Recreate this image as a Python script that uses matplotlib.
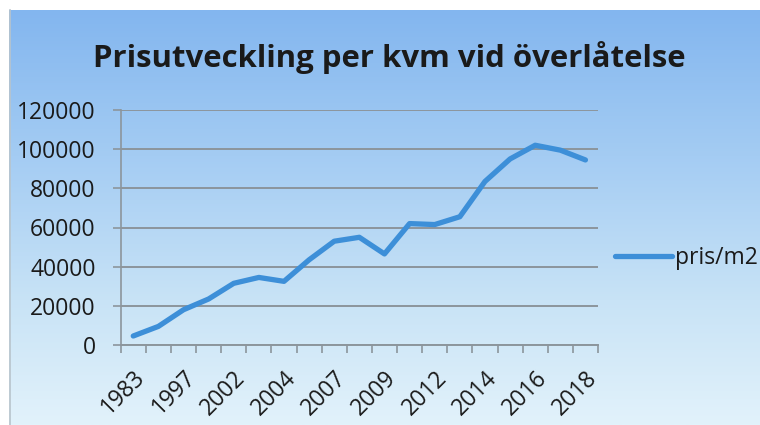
import matplotlib
matplotlib.use("Agg")
import matplotlib.pyplot as plt
import numpy as np
from matplotlib.colors import LinearSegmentedColormap

# Data (intermediate category labels are not shown in the chart; guessed)
years = ["1983", "1990", "1997", "2000", "2002", "2003", "2004", "2006", "2007", "2008",
         "2009", "2011", "2012", "2013", "2014", "2015", "2016", "2017", "2018"]
prices = [4600, 9500, 18000, 23500, 31500, 34500, 32500, 43500, 53000, 55000,
          46500, 62000, 61500, 65500, 83500, 95000, 102000, 99500, 94500]
series_name = "pris/m2"
title = "Prisutveckling per kvm vid överlåtelse"
yticks = [0, 20000, 40000, 60000, 80000, 100000, 120000]

W, H = 760, 425
fig = plt.figure(figsize=(W / 100, H / 100), dpi=100)
fig.patch.set_facecolor("white")

# background gradient panel
bg = fig.add_axes([0, 0, 1, 1], zorder=-10)
bg.set_xlim(0, W)
bg.set_ylim(H, 0)
bg.axis("off")
cmap = LinearSegmentedColormap.from_list(
    "bg", [(0.0, "#83b6ef"), (0.35, "#a4ccf3"), (0.7, "#c8e3f6"), (1.0, "#e2f2fb")])
grad = np.linspace(0, 1, 256).reshape(-1, 1)
bg.imshow(grad, cmap=cmap, aspect="auto", extent=(9, W, H, 10), zorder=0)
bg.plot([9.5, 9.5], [10, H], color="#b8c4cc", lw=1.2, zorder=1)

font = "Open Sans"
fs = 16.5

ax = fig.add_axes([120.7 / W, 1 - 345 / H, (598 - 120.7) / W, (345 - 110) / H])
ax.patch.set_alpha(0)
x = np.arange(len(years))
line, = ax.plot(x, prices, color="#3d8fd8", lw=3.8, solid_capstyle="round",
                solid_joinstyle="round", zorder=3, label=series_name)
ax.set_xlim(-0.5, len(years) - 0.5)
ax.set_ylim(0, 120000)
ax.set_yticks(yticks)
ax.set_yticklabels([str(v) for v in yticks], fontsize=fs, family=font, color="#1a1a1a")
ax.yaxis.grid(True, color="#8c959c", lw=1.4)
ax.set_axisbelow(True)

# category ticks at boundaries, labels every other category
ax.set_xticks(np.arange(-0.5, len(years)), minor=False)
ax.set_xticklabels([])
ax.set_xticks(x[::2], minor=True)
ax.set_xticklabels(years[::2], minor=True, rotation=45, ha="right", va="top",
                   rotation_mode="anchor", fontsize=fs, family=font, color="#1a1a1a")
ax.tick_params(axis="x", which="major", length=6, width=1.2, color="#8c959c", direction="out")
ax.tick_params(axis="x", which="minor", length=0, pad=15)
ax.tick_params(axis="y", which="major", length=6, width=1.2, color="#8c959c", pad=12)

for s in ["top", "right"]:
    ax.spines[s].set_visible(False)
ax.spines["left"].set_color("#8c959c")
ax.spines["left"].set_linewidth(1.2)
ax.spines["bottom"].set_color("#8c959c")
ax.spines["bottom"].set_linewidth(1.4)

fig.text(389 / W, 1 - 57 / H, title, ha="center", va="center", fontsize=22.4,
         fontweight="bold", family=font, color="#1a1a1a")

leg = fig.legend(handles=[line], loc="center left", bbox_to_anchor=(615 / W, 1 - 258 / H),
                 frameon=False, prop={"family": font, "size": fs}, handlelength=2.5,
                 handletextpad=0.13, borderaxespad=0, borderpad=0)
for t in leg.get_texts():
    t.set_color("#1a1a1a")

fig.savefig("out.png", dpi=100)
